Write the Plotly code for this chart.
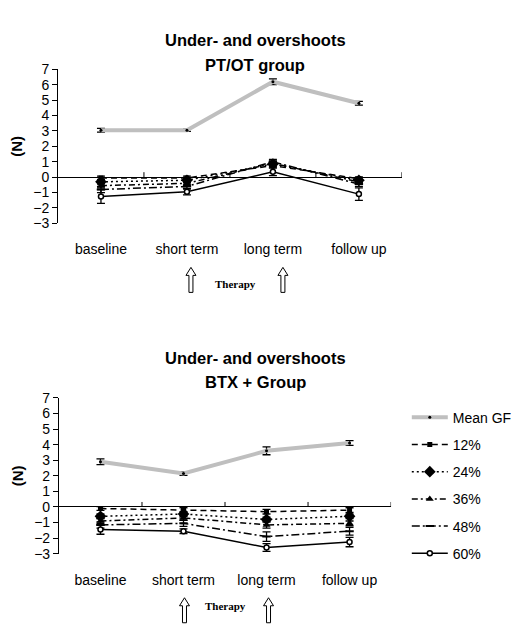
import plotly.graph_objects as go

W, H = 517, 629

categories = ["baseline", "short term", "long term", "follow up"]
series_names = ["Mean GF", "12%", "24%", "36%", "48%", "60%"]

# PT/OT group: mean grip force and under-/overshoots per load level (N)
pt_mean_gf = [3.05, 3.05, 6.2, 4.8]
pt_mean_gf_err = [0.12, 0.07, 0.18, 0.12]
pt_12 = [-0.05, -0.05, 0.75, -0.1]
pt_12_err = [0.12, 0.12, 0.15, 0.12]
pt_24 = [-0.3, -0.2, 0.85, -0.2]
pt_24_err = [0.15, 0.15, 0.15, 0.15]
pt_36 = [-0.55, -0.4, 0.9, -0.3]
pt_36_err = [0.15, 0.15, 0.15, 0.15]
pt_48 = [-0.8, -0.6, 1.0, -0.45]
pt_48_err = [0.2, 0.15, 0.15, 0.15]
pt_60 = [-1.25, -0.95, 0.35, -1.1]
pt_60_err = [0.45, 0.2, 0.25, 0.4]

# BTX + Group
btx_mean_gf = [2.9, 2.15, 3.6, 4.1]
btx_mean_gf_err = [0.18, 0.12, 0.25, 0.15]
btx_12 = [-0.1, -0.2, -0.3, -0.2]
btx_12_err = [0.12, 0.15, 0.15, 0.15]
btx_24 = [-0.6, -0.45, -0.8, -0.6]
btx_24_err = [0.15, 0.15, 0.15, 0.15]
btx_36 = [-0.9, -0.7, -1.15, -1.05]
btx_36_err = [0.15, 0.15, 0.2, 0.15]
btx_48 = [-1.15, -1.05, -1.9, -1.55]
btx_48_err = [0.2, 0.2, 0.3, 0.25]
btx_60 = [-1.45, -1.55, -2.6, -2.25]
btx_60_err = [0.3, 0.15, 0.25, 0.3]

# panel placement in pixels: (x-axis left, right, plot top, bottom)
groups = [
    dict(title="PT/OT group", xaxis="x", yaxis="y", legend=False,
         box=(59, 409, 63, 221), title_rows=(22, 47),
         arrow_shift={"short term": 4, "long term": 10}, label_shift=6,
         values=[pt_mean_gf, pt_12, pt_24, pt_36, pt_48, pt_60],
         errors=[pt_mean_gf_err, pt_12_err, pt_24_err, pt_36_err, pt_48_err, pt_60_err]),
    dict(title="BTX + Group", xaxis="x2", yaxis="y2", legend=True,
         box=(60, 398, 400, 560), title_rows=(359, 384),
         arrow_shift={"short term": 1, "long term": 2}, label_shift=0,
         values=[btx_mean_gf, btx_12, btx_24, btx_36, btx_48, btx_60],
         errors=[btx_mean_gf_err, btx_12_err, btx_24_err, btx_36_err, btx_48_err, btx_60_err]),
]

styles = {
    "Mean GF": dict(line=dict(color="#bfbfbf", width=4, dash="solid"),
                    marker=dict(symbol="circle", size=3, color="black")),
    "12%": dict(line=dict(color="black", width=1.5, dash="6px,4px"),
                marker=dict(symbol="square", size=5, color="black")),
    "24%": dict(line=dict(color="black", width=1.5, dash="2px,3px"),
                marker=dict(symbol="diamond", size=9, color="black")),
    "36%": dict(line=dict(color="black", width=1.5, dash="6px,3px,2px,3px"),
                marker=dict(symbol="triangle-up", size=7, color="black")),
    "48%": dict(line=dict(color="black", width=1.5, dash="8px,3px,2px,3px"),
                marker=dict(symbol="line-ew", size=6, color="black",
                            line=dict(color="black", width=2))),
    "60%": dict(line=dict(color="black", width=1.5, dash="solid"),
                marker=dict(symbol="circle", size=5, color="white",
                            line=dict(color="black", width=1.5))),
}

FONT = "Liberation Sans, Arial, sans-serif"
SERIF = "Liberation Serif, Times New Roman, serif"

fig = go.Figure()
for g in groups:
    for name, vals, errs in zip(series_names, g["values"], g["errors"]):
        st = styles[name]
        fig.add_trace(go.Scatter(
            x=categories, y=vals, name=name, mode="lines+markers",
            xaxis=g["xaxis"], yaxis=g["yaxis"],
            line=st["line"], marker=st["marker"],
            error_y=dict(type="data", array=errs, color="black",
                         thickness=1.3, width=4),
            showlegend=g["legend"], legendgroup=name,
        ))


def px_x(p):
    return p / W


def px_y(p):
    return 1 - p / H


def arrow_path(dx):
    """Hollow block arrow pointing up, in pixels below the plot area."""
    pts = [(0, -44), (5, -52), (2, -52), (2, -69), (-2, -69), (-2, -52), (-5, -52)]
    return "M" + " L".join("%g,%g" % (x + dx, y) for x, y in pts) + " Z"


axis_common_x = dict(type="category", range=[-0.5, len(categories) - 0.5],
                     showline=False, showgrid=False, zeroline=False, ticks="",
                     tickfont=dict(family=FONT, size=14, color="black"),
                     ticklabelstandoff=16, fixedrange=True)
axis_common_y = dict(range=[-3, 7], dtick=1, showline=True, linecolor="black",
                     linewidth=1, ticks="outside", ticklen=5, tickcolor="black",
                     showgrid=False, zeroline=True, zerolinecolor="black",
                     zerolinewidth=1, fixedrange=True,
                     tickfont=dict(family=FONT, size=14, color="black"),
                     title=dict(text="(N)", standoff=6,
                                font=dict(family=FONT, size=15, color="black",
                                          weight="bold")))

layout_axes = {}
for i, g in enumerate(groups):
    left, right, top, bottom = g["box"]
    sfx = "" if i == 0 else str(i + 1)
    layout_axes["xaxis" + sfx] = dict(domain=[px_x(left), px_x(right)],
                                      anchor="y" + sfx, **axis_common_x)
    layout_axes["yaxis" + sfx] = dict(domain=[px_y(bottom), px_y(top)],
                                      anchor="x" + sfx, **axis_common_y)

fig.update_layout(
    width=W, height=H,
    margin=dict(l=0, r=0, t=0, b=0),
    paper_bgcolor="white", plot_bgcolor="white",
    font=dict(family=FONT, color="black"),
    legend=dict(x=px_x(414), xanchor="left", y=px_y(404), yanchor="top",
                font=dict(family=FONT, size=14, color="black"),
                bgcolor="rgba(0,0,0,0)", borderwidth=0, itemwidth=36,
                traceorder="grouped", tracegroupgap=6),
    showlegend=True,
    **layout_axes,
)

shapes = []
annotations = []
for g in groups:
    xr, yr = g["xaxis"], g["yaxis"]
    left, right, top, bottom = g["box"]
    # upward tick marks on the zero line between categories
    for i in range(len(categories)):
        shapes.append(dict(type="line", xref=xr, yref=yr, x0=i + 0.5, x1=i + 0.5,
                           ysizemode="pixel", yanchor=0, y0=0, y1=5,
                           line=dict(color="black", width=1)))
    # "therapy" arrows under short and long term
    for cat in ("short term", "long term"):
        shapes.append(dict(type="path", xref=xr, yref="paper",
                           xsizemode="pixel", xanchor=categories.index(cat),
                           ysizemode="pixel", yanchor=px_y(bottom),
                           path=arrow_path(g["arrow_shift"][cat]),
                           fillcolor="white", line=dict(color="black", width=1)))
    annotations.append(dict(text="Therapy", xref=xr, yref="paper",
                            x=(categories.index("short term") + categories.index("long term")) / 2,
                            xshift=g["label_shift"],
                            y=px_y(bottom + 62), showarrow=False,
                            font=dict(family=SERIF, size=11, color="black", weight="bold")))
    r1, r2 = g["title_rows"]
    for txt, row in (("Under- and overshoots", r1), (g["title"], r2)):
        annotations.append(dict(text=txt, xref="paper", yref="paper",
                                x=px_x(260), y=px_y(row), showarrow=False,
                                font=dict(family=FONT, size=16.5, color="black",
                                          weight="bold")))

fig.update_layout(shapes=shapes, annotations=annotations)

fig.write_html("out.html")
